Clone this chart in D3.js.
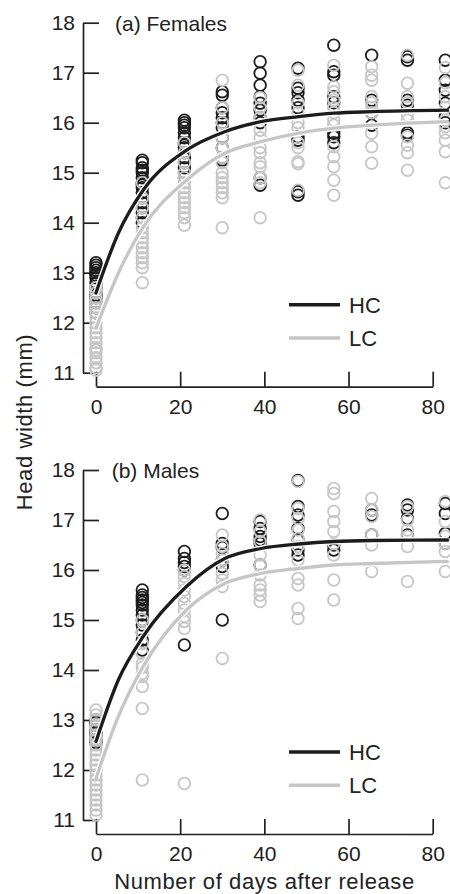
<!DOCTYPE html>
<html>
<head>
<meta charset="utf-8">
<script src="https://cdn.jsdelivr.net/npm/d3@7"></script>
<style>
    body { margin: 0; background: #fff; }
    svg { display: block; font-family: "Liberation Sans", Arial, sans-serif; }
    .axis path, .axis line { stroke: #222; stroke-width: 1.7; }
    .axis text { font-size: 21px; fill: #222; font-family: "Liberation Sans", Arial, sans-serif; }
    .title { font-size: 21px; fill: #222; }
    .legend text { font-size: 22px; fill: #222; }
    .axisTitle { font-size: 22px; fill: #222; letter-spacing: 0.6px; }
</style>
</head>
<body>
<div id="chart"></div>
<script>
// sampling days (one column of points per day)
var days = [0, 11, 21, 30, 39, 48, 56.5, 65.5, 74, 83];

// head widths (mm), one inner array per sampling day
var femaleHC = [
    [13.2, 13.15, 13.1, 13.05, 13.0, 12.95, 12.9, 12.8, 12.7, 12.6, 12.55, 12.5, 12.4, 12.3, 12.2],
    [15.25, 15.2, 15.1, 15.05, 15.0, 14.9, 14.8, 14.75, 14.7, 14.6, 14.5, 14.4, 14.3, 14.2, 14.1, 14.0],
    [16.05, 16.0, 15.95, 15.9, 15.8, 15.7, 15.6, 15.55, 15.5, 15.4, 15.3, 15.2, 15.1, 15.0, 14.9],
    [16.62, 16.55, 16.3, 16.2, 16.1, 16.0, 15.9, 15.7, 15.5, 15.3, 15.25],
    [17.22, 16.99, 16.75, 16.52, 16.39, 16.25, 16.1, 16.0, 14.9, 14.75],
    [17.09, 16.69, 16.6, 16.45, 16.3, 15.72, 15.65, 14.62, 14.55],
    [17.55, 17.02, 16.95, 16.52, 16.4, 15.79, 15.72, 15.6],
    [17.35, 16.45, 16.2, 15.95],
    [17.32, 17.25, 16.45, 16.35, 15.8, 15.75],
    [17.25, 16.85, 16.65, 16.39, 16.12, 16.0]
];
var femaleLC = [
    [12.7, 12.6, 12.5, 12.4, 12.3, 12.2, 12.1, 12.0, 11.9, 11.8, 11.7, 11.6, 11.5, 11.45, 11.4, 11.3, 11.2, 11.1, 11.05],
    [14.8, 14.5, 14.3, 14.1, 13.9, 13.8, 13.7, 13.6, 13.5, 13.4, 13.3, 13.2, 13.1, 12.8],
    [15.6, 15.4, 15.2, 15.0, 14.9, 14.8, 14.7, 14.6, 14.5, 14.4, 14.3, 14.2, 14.1, 13.95],
    [16.85, 16.3, 16.0, 15.7, 15.5, 15.3, 15.2, 15.0, 14.9, 14.8, 14.7, 14.6, 14.5, 13.9],
    [16.5, 16.3, 16.1, 15.85, 15.7, 15.5, 15.4, 15.2, 15.12, 14.9, 14.8, 14.1],
    [17.05, 16.75, 16.4, 16.2, 16.0, 15.9, 15.6, 15.5, 15.22, 15.18, 14.65],
    [17.15, 16.72, 16.62, 16.45, 16.3, 16.2, 16.05, 15.95, 15.52, 15.32, 15.12, 14.85, 14.55],
    [17.12, 16.95, 16.85, 16.52, 16.4, 16.3, 16.2, 15.79, 15.52, 15.19],
    [17.35, 16.79, 16.52, 16.4, 16.15, 16.05, 15.72, 15.55, 15.4, 15.05],
    [17.1, 16.8, 16.52, 16.3, 16.05, 15.92, 15.8, 15.65, 15.42, 14.8]
];
var maleHC = [
    [13.0, 12.95, 12.9, 12.8, 12.75, 12.7, 12.6, 12.55],
    [15.6, 15.5, 15.45, 15.4, 15.35, 15.3, 15.2, 15.1, 15.0, 14.9, 14.75, 14.6, 14.4],
    [16.37, 16.23, 16.15, 16.07, 16.0, 14.5],
    [17.13, 16.53, 16.45, 16.2, 16.07, 15.0],
    [16.97, 16.83, 16.67, 16.6, 16.53, 16.1],
    [17.79, 17.27, 17.1, 16.83, 16.6, 16.4, 16.3],
    [16.5, 16.4],
    [17.2, 17.1, 16.7],
    [17.3, 17.2, 17.03, 16.7],
    [17.33, 17.13, 16.73, 16.53]
];
var maleLC = [
    [13.2, 13.1, 13.0, 12.9, 12.8, 12.7, 12.6, 12.5, 12.4, 12.3, 12.2, 12.1, 12.0, 11.9, 11.8, 11.7, 11.6, 11.5, 11.4, 11.3, 11.2, 11.1],
    [15.0, 14.75, 14.53, 14.33, 14.13, 14.05, 13.93, 13.87, 13.67, 13.23, 11.8],
    [16.0, 15.87, 15.73, 15.6, 15.47, 15.33, 15.2, 15.07, 14.97, 14.83, 11.73],
    [16.7, 16.47, 16.33, 16.2, 15.93, 15.8, 15.67, 14.23],
    [17.0, 16.77, 16.57, 16.3, 16.1, 15.9, 15.7, 15.6, 15.5, 15.37],
    [17.77, 17.23, 17.03, 16.8, 16.63, 16.47, 16.2, 15.83, 15.7, 15.23, 15.03],
    [17.63, 17.53, 17.17, 16.97, 16.77, 16.53, 16.3, 15.8, 15.4],
    [17.43, 17.2, 17.07, 16.7, 16.5, 15.97],
    [17.27, 17.0, 16.8, 16.67, 16.47, 15.77],
    [17.37, 16.97, 16.67, 16.53, 16.37, 15.97]
];

// fitted growth curves
var fitDays = [0, 5.3, 11.2, 21.5, 30.6, 39.2, 48.2, 56.5, 65.6, 83.5];
var femaleHCfit = [12.6, 13.79, 14.65, 15.45, 15.82, 16.02, 16.12, 16.19, 16.22, 16.25];
var femaleLCfit = [11.89, 12.99, 13.91, 14.85, 15.39, 15.62, 15.79, 15.89, 15.95, 16.02];
var maleHCfit = [12.57, 13.8, 14.67, 15.67, 16.23, 16.43, 16.52, 16.57, 16.59, 16.6];
var maleLCfit = [11.83, 13.07, 14.07, 15.2, 15.73, 15.93, 16.03, 16.1, 16.13, 16.17];

var yTicks = [11, 12, 13, 14, 15, 16, 17, 18];
var xTicks = [0, 20, 40, 60, 80];
var legendLabels = ["HC", "LC"];

var width = 450, height = 894;
var black = "#1c1c1c", grey = "#c6c6c6";

var svg = d3.select("#chart").append("svg")
    .attr("width", width)
    .attr("height", height);

var x = d3.scaleLinear().domain([0, 80]).range([96, 432.7]);

function drawPanel(top, title, titleX, hc, lc, hcFit, lcFit) {

    var y = d3.scaleLinear().domain([11, 18]).range([top + 350, top]);
    var g = svg.append("g");

    // y axis, ticks pointing inwards, set apart from the x axis
    g.append("g")
        .attr("class", "axis")
        .attr("transform", "translate(83,0)")
        .call(d3.axisLeft(y).tickValues(yTicks).tickFormat(d3.format("d"))
            .tickSize(-16).tickSizeOuter(0).tickPadding(8));

    g.append("g")
        .attr("class", "axis")
        .attr("transform", "translate(0," + (top + 364) + ")")
        .call(d3.axisBottom(x).tickValues(xTicks).tickFormat(d3.format("d"))
            .tickSize(-15).tickSizeOuter(0).tickPadding(12));

    g.selectAll(".axis .domain").attr("fill", "none");

    g.append("text")
        .attr("class", "title")
        .attr("x", titleX)
        .attr("y", top + 8)
        .text(title);

    // points: HC first, LC on top
    [[hc, black], [lc, grey]].forEach(function (s) {
        var pts = [];
        s[0].forEach(function (vals, i) {
            vals.forEach(function (v) { pts.push([days[i], v]); });
        });
        g.append("g").selectAll("circle")
            .data(pts)
            .enter().append("circle")
            .attr("cx", function (d) { return x(d[0]); })
            .attr("cy", function (d) { return y(d[1]); })
            .attr("r", 5.8)
            .attr("fill", "none")
            .attr("stroke", s[1])
            .attr("stroke-width", 1.8);
    });

    var line = d3.line()
        .x(function (d, i) { return x(fitDays[i]); })
        .y(function (d) { return y(d); })
        .curve(d3.curveMonotoneX);

    [[lcFit, grey], [hcFit, black]].forEach(function (s) {
        g.append("path")
            .attr("d", line(s[0]))
            .attr("fill", "none")
            .attr("stroke", "#fff")
            .attr("stroke-width", 6);
        g.append("path")
            .attr("d", line(s[0]))
            .attr("fill", "none")
            .attr("stroke", s[1])
            .attr("stroke-width", 3.3)
            .attr("stroke-linecap", "round");
    });

    // legend
    var lg = g.append("g").attr("class", "legend");
    legendLabels.forEach(function (lab, i) {
        var ly = top + 282 + i * 33.3;
        lg.append("line")
            .attr("x1", 289).attr("x2", 340)
            .attr("y1", ly).attr("y2", ly)
            .attr("stroke", i == 0 ? black : grey)
            .attr("stroke-width", 3.5);
        lg.append("text")
            .attr("x", 349)
            .attr("y", ly)
            .attr("dy", "0.36em")
            .text(lab);
    });
}

drawPanel(22.7, "(a) Females", 115, femaleHC, femaleLC, femaleHCfit, femaleLCfit);
drawPanel(470, "(b) Males", 111.7, maleHC, maleLC, maleHCfit, maleLCfit);

// shared axis titles
svg.append("text")
    .attr("class", "axisTitle")
    .attr("transform", "translate(31.5,422) rotate(-90)")
    .attr("text-anchor", "middle")
    .text("Head width (mm)");

svg.append("text")
    .attr("class", "axisTitle")
    .attr("x", 264.5)
    .attr("y", 889)
    .attr("text-anchor", "middle")
    .text("Number of days after release");
</script>
</body>
</html>
